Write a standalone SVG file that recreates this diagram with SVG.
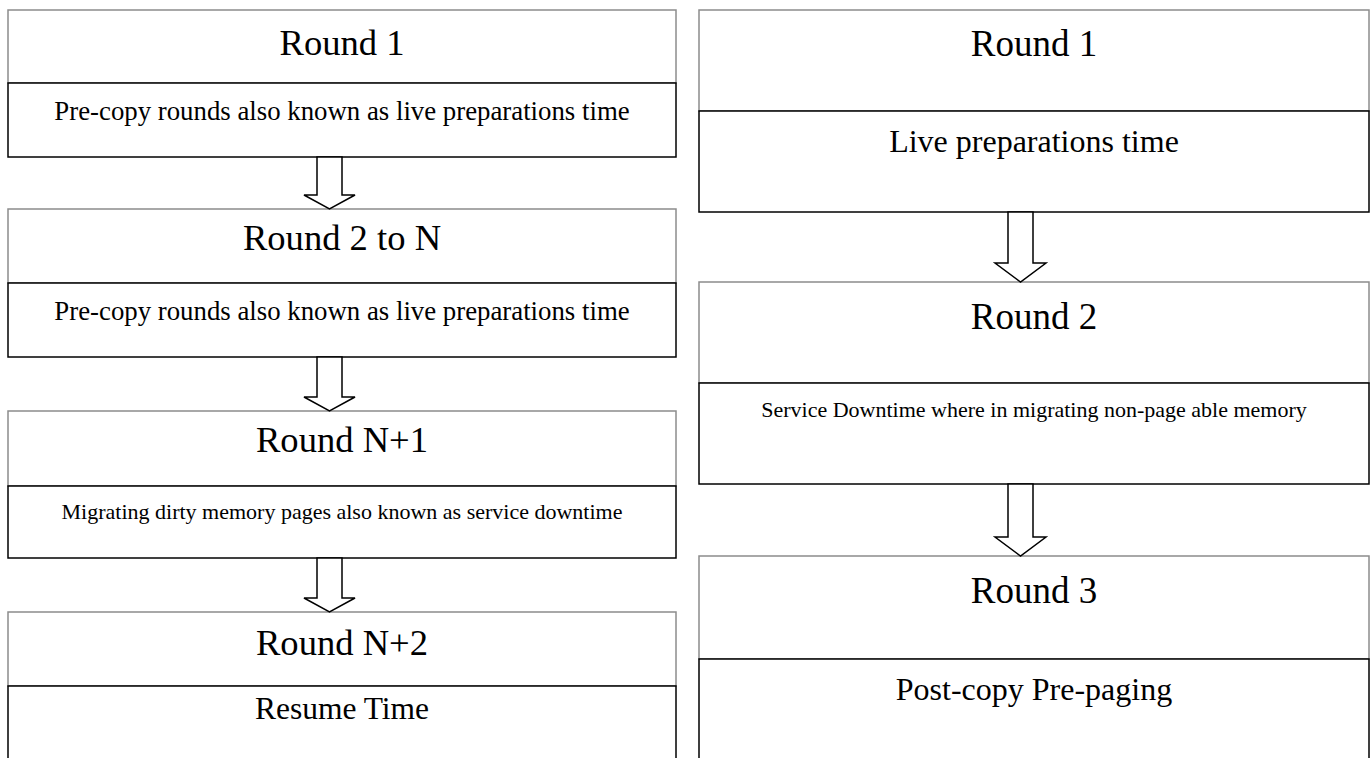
<svg xmlns="http://www.w3.org/2000/svg" width="1371" height="758" viewBox="0 0 1371 758">
<style>
.hdr{fill:#fff;stroke:#8c8c8c;stroke-width:1.5}
.body{fill:#fff;stroke:#000;stroke-width:1.5}
.arrow{fill:#fff;stroke:#000;stroke-width:1.5;stroke-linejoin:miter}
text{font-family:"Liberation Serif","Times New Roman",serif;fill:#000;text-anchor:middle}
.t{font-size:36.6px}
.tr{font-size:37px}
</style>
<rect width="1371" height="758" fill="#fff"/>
<g id="left1">
<rect class="hdr" x="8" y="10" width="668" height="73"/>
<rect class="body" x="8" y="83" width="668" height="74"/>
<text class="t" x="342" y="55">Round 1</text>
<text x="342" y="120" font-size="26.8">Pre-copy rounds also known as live preparations time</text>
</g>
<g id="left2">
<rect class="hdr" x="8" y="209" width="668" height="74"/>
<rect class="body" x="8" y="283" width="668" height="74"/>
<text class="t" x="342" y="250">Round 2 to N</text>
<text x="342" y="320" font-size="26.8">Pre-copy rounds also known as live preparations time</text>
</g>
<g id="left3">
<rect class="hdr" x="8" y="411" width="668" height="75"/>
<rect class="body" x="8" y="486" width="668" height="72"/>
<text class="t" x="342" y="452">Round N+1</text>
<text x="342" y="519" font-size="22">Migrating dirty memory pages also known as service downtime</text>
</g>
<g id="left4">
<rect class="hdr" x="8" y="612" width="668" height="74"/>
<rect class="body" x="8" y="686" width="668" height="90"/>
<text class="t" x="342" y="655">Round N+2</text>
<text x="342" y="719" font-size="31.5">Resume Time</text>
</g>
<g id="right1">
<rect class="hdr" x="699" y="10" width="670" height="101"/>
<rect class="body" x="699" y="111" width="670" height="101"/>
<text class="tr" x="1034" y="56">Round 1</text>
<text x="1034" y="152" font-size="32">Live preparations time</text>
</g>
<g id="right2">
<rect class="hdr" x="699" y="282" width="670" height="101"/>
<rect class="body" x="699" y="383" width="670" height="101"/>
<text class="tr" x="1034" y="329">Round 2</text>
<text x="1034" y="417" font-size="22">Service Downtime where in migrating non-page able memory</text>
</g>
<g id="right3">
<rect class="hdr" x="699" y="556" width="670" height="103"/>
<rect class="body" x="699" y="659" width="670" height="120"/>
<text class="tr" x="1034" y="603">Round 3</text>
<text x="1034" y="700" font-size="32">Post-copy Pre-paging</text>
</g>
<g id="connectors">
<polygon class="arrow" points="317,157 342,157 342,195 355,195 329.5,209 304,195 317,195"/>
<polygon class="arrow" points="317,357 342,357 342,397 355,397 329.5,411 304,397 317,397"/>
<polygon class="arrow" points="317,558 342,558 342,598 355,598 329.5,612 304,598 317,598"/>
<polygon class="arrow" points="1008,212 1033,212 1033,263 1046,263 1020.5,282 995,263 1008,263"/>
<polygon class="arrow" points="1008,484 1033,484 1033,537 1046,537 1020.5,556 995,537 1008,537"/>
</g>
</svg>
